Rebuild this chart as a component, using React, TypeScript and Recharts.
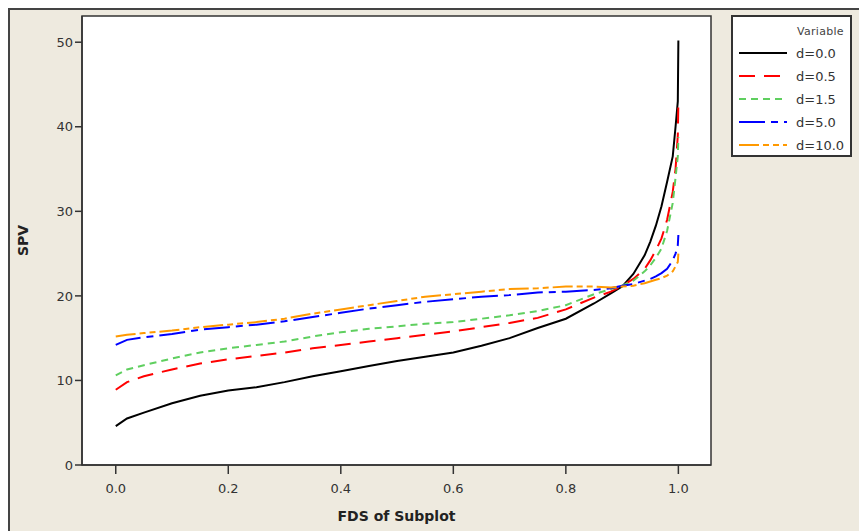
import React from 'react';
import { LineChart, Line, XAxis, YAxis, ReferenceArea } from 'recharts';

// FDS positions (x) shared by all curves
const fds = [
  0, 0.02, 0.05, 0.1, 0.15, 0.2, 0.25, 0.3, 0.35, 0.4, 0.45, 0.5, 0.55, 0.6, 0.65, 0.7, 0.75, 0.8,
  0.85, 0.88, 0.9, 0.92, 0.94, 0.95, 0.96, 0.97, 0.98, 0.99, 0.995, 0.999, 1.0,
];

// SPV values per d
const spvD00 = [
  4.6, 5.5, 6.2, 7.3, 8.2, 8.8, 9.2, 9.8, 10.5, 11.1, 11.7, 12.3, 12.8, 13.3, 14.1, 15.0, 16.2, 17.3,
  19.1, 20.3, 21.1, 22.6, 24.8, 26.4, 28.3, 30.6, 33.5, 36.5, 40.0, 43.0, 50.2,
];
const spvD05 = [
  8.9, 9.8, 10.5, 11.3, 12.0, 12.5, 12.9, 13.3, 13.8, 14.2, 14.6, 15.0, 15.4, 15.8, 16.3, 16.8, 17.4, 18.4,
  19.8, 20.5, 21.2, 22.0, 23.2, 24.2, 25.4, 26.8, 29.0, 32.3, 35.0, 39.0, 43.0,
];
const spvD15 = [
  10.6, 11.3, 11.8, 12.6, 13.3, 13.8, 14.2, 14.6, 15.2, 15.7, 16.1, 16.4, 16.7, 16.9, 17.3, 17.7, 18.2, 18.9,
  20.2, 20.8, 21.2, 21.8, 22.9, 23.6, 24.5, 25.6, 27.7, 31.0, 34.0, 36.5, 38.8,
];
const spvD50 = [
  14.2, 14.8, 15.1, 15.5, 16.0, 16.3, 16.6, 17.0, 17.5, 18.0, 18.5, 18.9, 19.3, 19.6, 19.9, 20.1, 20.4, 20.5,
  20.7, 20.9, 21.2, 21.4, 21.8, 22.0, 22.3, 22.7, 23.2, 24.2, 25.0, 26.0, 27.2,
];
const spvD100 = [
  15.2, 15.4, 15.6, 15.9, 16.3, 16.6, 16.9, 17.3, 17.9, 18.4, 18.9, 19.4, 19.9, 20.2, 20.5, 20.8, 20.9, 21.1,
  21.1, 21.0, 21.1, 21.2, 21.5, 21.7, 21.9, 22.1, 22.4, 22.9, 23.5, 24.0, 25.0,
];

const xTicks = [0, 0.2, 0.4, 0.6, 0.8, 1.0];
const yTicks = [0, 10, 20, 30, 40, 50];

const series = [
  { key: 'd00', name: 'd=0.0', color: '#000000', dash: undefined as string | undefined },
  { key: 'd05', name: 'd=0.5', color: '#ff0000', dash: '16 9' },
  { key: 'd15', name: 'd=1.5', color: '#5fcf5f', dash: '7 5' },
  { key: 'd50', name: 'd=5.0', color: '#0000ff', dash: '26 6 7 6' },
  { key: 'd100', name: 'd=10.0', color: '#ff9900', dash: '20 4 6 4 6 4' },
];

const data = fds.map((x, i) => ({
  x,
  d00: spvD00[i],
  d05: spvD05[i],
  d15: spvD15[i],
  d50: spvD50[i],
  d100: spvD100[i],
}));

const FONT = '"DejaVu Sans", Verdana, sans-serif';
const X_MIN = -0.06;
const X_MAX = 1.058;
const Y_MAX = 53.1;

const YTitle = ({ viewBox }: any) => {
  const cx = 13;
  const cy = viewBox.y + viewBox.height / 2;
  return (
    <text x={cx} y={cy} transform={`rotate(-90 ${cx} ${cy})`} textAnchor="middle" dominantBaseline="central"
      fontFamily={FONT} fontSize={14} fontWeight="bold" fill="#222">
      SPV
    </text>
  );
};

const XTitle = ({ viewBox }: any) => {
  const cx = viewBox.x + viewBox.width / 2;
  return (
    <text x={cx} y={511} textAnchor="middle" fontFamily={FONT} fontSize={14} fontWeight="bold" fill="#222">
      FDS of Subplot
    </text>
  );
};

const LegendBox = () => (
  <div
    style={{
      position: 'absolute', left: 721, top: 5, width: 121, height: 142, boxSizing: 'border-box',
      border: '2px solid #333', background: '#fff', fontFamily: FONT,
    }}
  >
    <div style={{ position: 'absolute', left: 64, top: 8, fontSize: 11, letterSpacing: 0.3, color: '#444' }}>Variable</div>
    {series.map((s, i) => (
      <div key={s.key} style={{ position: 'absolute', left: 6, top: 28 + i * 23, height: 16, display: 'flex', alignItems: 'center' }}>
        <svg width={48} height={4} style={{ display: 'block' }}>
          <line x1={0} y1={2} x2={48} y2={2} stroke={s.color} strokeWidth={2} strokeDasharray={s.dash} />
        </svg>
        <span style={{ marginLeft: 9, fontSize: 13, color: '#333' }}>{s.name}</span>
      </div>
    ))}
  </div>
);

export default function App() {
  return (
    <div
      style={{
        position: 'relative', width: 859, height: 523, boxSizing: 'border-box', background: '#eeeadf',
        borderTop: '2px solid #444', borderLeft: '2px solid #444',
      }}
    >
      <LineChart width={857} height={521} data={data} margin={{ top: 6, right: 156, left: 0, bottom: 0 }}>
        <ReferenceArea x1={X_MIN} x2={X_MAX} y1={0} y2={Y_MAX} fill="#ffffff" fillOpacity={1} stroke="#333" strokeWidth={1.5} />
        <XAxis
          type="number"
          dataKey="x"
          domain={[X_MIN, X_MAX]}
          allowDataOverflow
          ticks={xTicks}
          tickFormatter={(v: number) => v.toFixed(1)}
          height={66}
          tickSize={9}
          tickMargin={10}
          axisLine={{ stroke: '#333', strokeWidth: 1.5 }}
          tickLine={{ stroke: '#333', strokeWidth: 1.5 }}
          tick={{ fill: '#333', fontSize: 13, fontFamily: FONT }}
          label={{ content: XTitle }}
        />
        <YAxis
          type="number"
          domain={[0, Y_MAX]}
          allowDataOverflow
          ticks={yTicks}
          width={72}
          tickSize={7}
          tickMargin={2}
          axisLine={{ stroke: '#333', strokeWidth: 1.5 }}
          tickLine={{ stroke: '#333', strokeWidth: 1.5 }}
          tick={{ fill: '#333', fontSize: 13, fontFamily: FONT }}
          label={{ content: YTitle }}
        />
        {series.map((s) => (
          <Line
            key={s.key}
            type="linear"
            dataKey={s.key}
            name={s.name}
            stroke={s.color}
            strokeWidth={2}
            strokeDasharray={s.dash}
            dot={false}
            activeDot={false}
            isAnimationActive={false}
          />
        ))}
      </LineChart>
      <LegendBox />
    </div>
  );
}
